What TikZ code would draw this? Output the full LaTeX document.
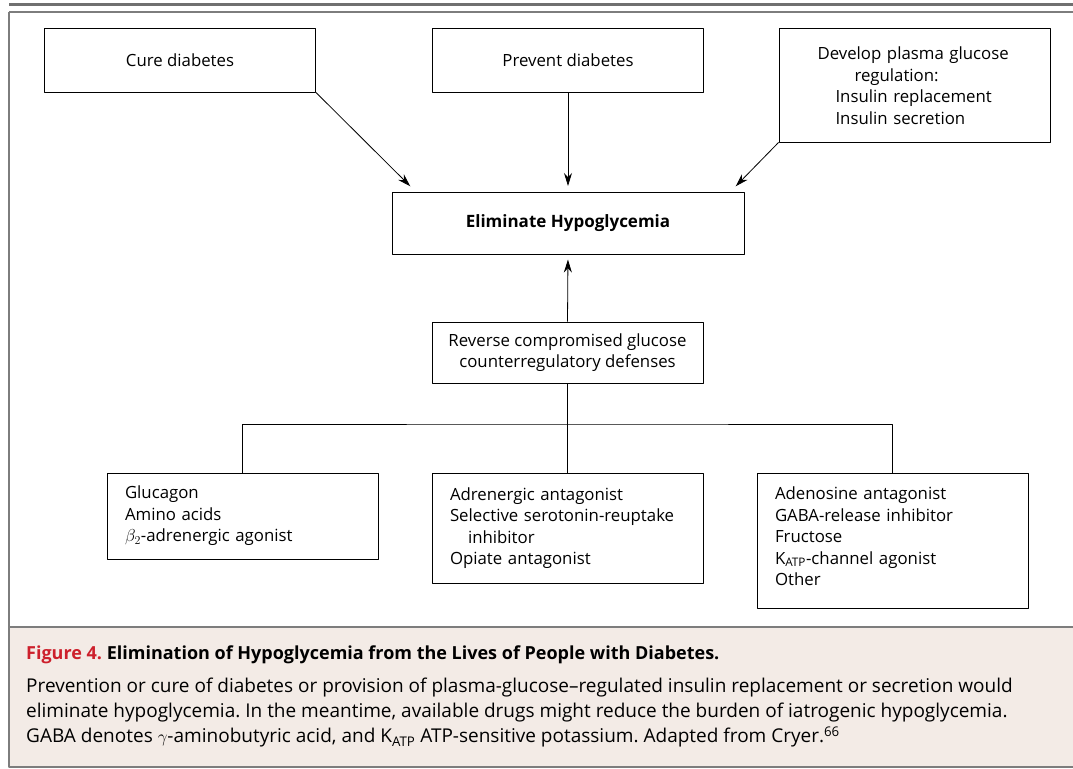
\documentclass[tikz,border=0pt]{standalone}
\usepackage{fontspec}
\setmainfont{Open Sans}
\usetikzlibrary{positioning,arrows.meta}
\definecolor{capred}{RGB}{205,32,44}
\definecolor{capbg}{RGB}{243,235,230}
\definecolor{framegray}{RGB}{125,125,125}
\frenchspacing
\begin{document}
\begin{tikzpicture}[x=1pt,y=-1pt,>={Stealth[length=13pt,width=8pt]}, line join=round,
	box/.style={draw, line width=1pt, minimum width=271pt, inner sep=0pt, align=center, font=\fontsize{16.8}{21.5}\selectfont},
	listbox/.style={box, text width=235pt, align=left},
	arr/.style={->, line width=.8pt, shorten >=1pt}]
	\useasboundingbox (0,0) rectangle (1073,768);
	%khung
	\draw[line width=3pt, framegray!90!black] (9,5)--(1073,5);
	\fill[capbg] (9,627) rectangle (1080,767);
	\draw[framegray, line width=1.2pt] (9,12)--(1080,12) (9,12)--(9,767)--(1080,767);
	\draw[framegray, line width=1.2pt] (9,627)--(1080,627);
	%hàng trên
	\node[box, minimum height=63pt] (cure) at (180,60.5) {Cure diabetes};
	\node[box, minimum height=63pt] (prevent) at (568,60.5) {Prevent diabetes};
	\node[box, minimum height=113pt, text width=194pt, align=left] (develop) at (914.5,85.5)
		{Develop plasma glucose\\\hspace*{37pt}regulation:\\\hspace*{18pt}Insulin replacement\\\hspace*{18pt}Insulin secretion};
	\node[box, minimum width=352pt, minimum height=62pt, font=\fontsize{17}{21.5}\selectfont\bfseries] (elim) at (568,223) {Eliminate Hypoglycemia};
	\node[box, minimum height=61pt] (reverse) at (567.5,352.5) {Reverse compromised glucose\\counterregulatory defenses};
	%hàng dưới
	\node[listbox, minimum height=86pt] (glucagon) at (242.5,516) {Glucagon\\Amino acids\\$\beta_2$-adrenergic agonist};
	\node[listbox, minimum height=110pt] (adren) at (567.5,528) {Adrenergic antagonist\\Selective serotonin-reuptake\\\hspace*{18pt}inhibitor\\Opiate antagonist};
	\node[listbox, minimum height=135pt] (adeno) at (892.5,540.5) {Adenosine antagonist\\GABA-release inhibitor\\Fructose\\K\textsubscript{ATP}-channel agonist\\Other\\[-13pt]\mbox{}};
	%mũi tên
	\coordinate (tipL) at (411,187);
	\coordinate (tipR) at (735,187);
	\draw[arr] (cure.south east)--(tipL);
	\draw[arr] (prevent.south)--(prevent.south |- tipL);
	\draw[arr] (develop.south west)--(tipR);
	\draw[arr, shorten >=5pt] (reverse.north)--(elim.south);
	\coordinate (bus) at (567.5,424);
	\draw[line width=1pt] (reverse.south)--(adren.north);
	\draw[line width=1pt] (glucagon.north) |- (bus) -| (adeno.north);
	%chú thích
	\node[anchor=west, inner sep=0pt, font=\fontsize{18}{25}\selectfont\bfseries] (title) at (26,655)
		{\textcolor{capred}{Figure 4.} Elimination of Hypoglycemia from the Lives of People with Diabetes.};
	\node[anchor=north west, align=left, inner sep=0pt, font=\fontsize{19}{25}\selectfont] (legend) at (26,678)
		{Prevention or cure of diabetes or provision of plasma-glucose--regulated insulin replacement or secretion would\\
		eliminate hypoglycemia. In the meantime, available drugs might reduce the burden of iatrogenic hypoglycemia.\\
		GABA denotes $\gamma$-aminobutyric acid, and K\textsubscript{ATP} ATP-sensitive potassium. Adapted from Cryer.\textsuperscript{66}};
\end{tikzpicture}
\end{document}
